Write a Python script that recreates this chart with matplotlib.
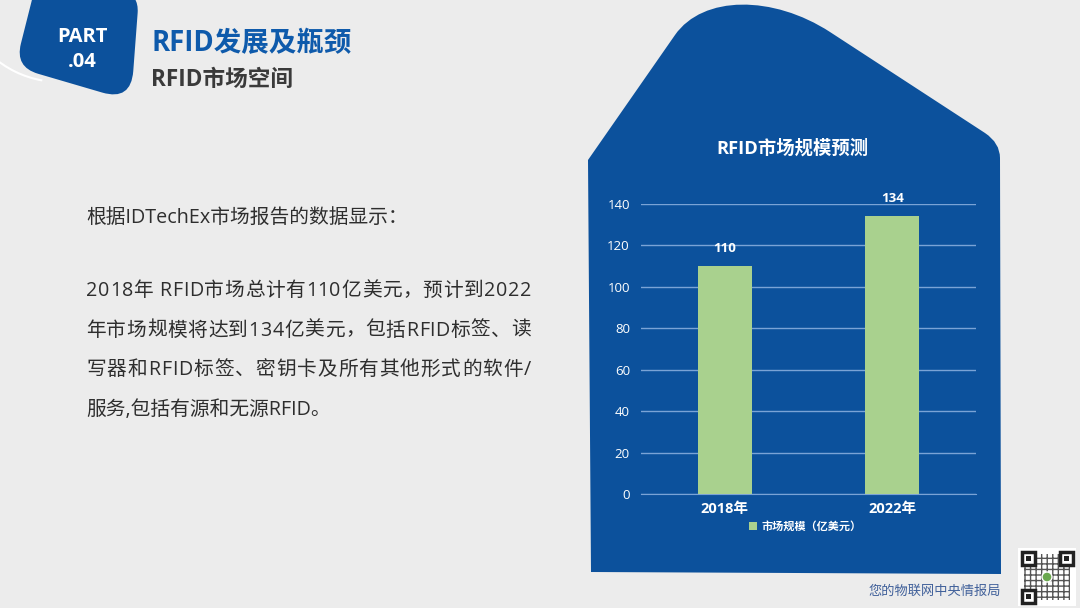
import numpy as np
import matplotlib
matplotlib.use("Agg")
import matplotlib.pyplot as plt
from matplotlib.path import Path
from matplotlib.patches import PathPatch, Rectangle, Arc, Circle
from matplotlib.font_manager import FontProperties

plt.rcParams['font.family'] = ['Open Sans', 'Noto Sans CJK SC', 'DejaVu Sans']

# chart data
years = ['2018年', '2022年']
market = [110, 134]
yticks = [0, 20, 40, 60, 80, 100, 120, 140]
series_name = '市场规模（亿美元）'
chart_title = 'RFID市场规模预测'

intro = '根据IDTechEx市场报告的数据显示：'
body = ['2018年 RFID市场总计有110亿美元，预计到2022',
        '年市场规模将达到134亿美元，包括RFID标签、读',
        '写器和RFID标签、密钥卡及所有其他形式的软件/',
        '服务,包括有源和无源RFID。']

BLUE = '#0c519c'
GREEN = '#a9d18e'
BG = '#ececec'

fig = plt.figure(figsize=(10.8, 6.08), dpi=100, facecolor=BG)

# background layer in pixel coords
bg = fig.add_axes([0, 0, 1, 1])
bg.set_xlim(0, 1080)
bg.set_ylim(608, 0)
bg.axis('off')


def rounded_poly(pts, radii):
    # polygon with quadratic-rounded corners
    n = len(pts)
    pts = [np.array(p, float) for p in pts]
    verts, codes = [], []
    for i in range(n):
        p0, p1, p2 = pts[i - 1], pts[i], pts[(i + 1) % n]
        r = radii[i]
        a = p1 + (p0 - p1) / np.linalg.norm(p0 - p1) * r
        b = p1 + (p2 - p1) / np.linalg.norm(p2 - p1) * r
        verts.append(a)
        codes.append(Path.MOVETO if i == 0 else Path.LINETO)
        verts += [p1, b]
        codes += [Path.CURVE3, Path.CURVE3]
    verts.append(verts[0])
    codes.append(Path.CLOSEPOLY)
    return Path(verts, codes)


# badge
bg.add_patch(Arc((60, -20), 204, 204, theta1=100, theta2=132, color='white', lw=1.5))
badge = rounded_poly([(42, -40), (139, -5), (131, 101), (15, 67)], [5, 18, 30, 24])
bg.add_patch(PathPatch(badge, fc=BLUE, ec='none'))
bg.text(82, 37, 'PART', color='white', fontsize=14.5, fontweight='bold', ha='center', va='center')
bg.text(82, 62, '.04', color='white', fontsize=14.5, fontweight='bold', ha='center', va='center')

bg.text(151, 44, 'RFID发展及瓶颈', color='#0e5aab', fontsize=19.8, fontweight='bold', va='center')
bg.text(151, 80, 'RFID市场空间', color='#3a3a3a', fontsize=16.3, fontweight='bold', va='center')

# left text, justified like the slide's text box
renderer = fig.canvas.get_renderer()
fs = 14.2
fp = FontProperties(family=plt.rcParams['font.family'], size=fs)


def text_w(s):
    if not s:
        return 0.0
    return renderer.get_text_width_height_descent(s, fp, ismath=False)[0]


left, right = 86, 531
bg.text(left, 218, intro, color='#2e2e2e', fontsize=fs, va='center')
for k, line in enumerate(body):
    y = 291 + k * 39.5
    if k == len(body) - 1:
        bg.text(left, y, line, color='#2e2e2e', fontsize=fs, va='center')
        continue
    extra = (right - left - text_w(line)) / (len(line) - 1)
    for i, ch in enumerate(line):
        bg.text(left + text_w(line[:i]) + i * extra, y, ch, color='#2e2e2e',
                fontsize=fs, va='center')

# blue house shape
verts = [(591, 572), (588, 160), (675, 35),
         (703, -5), (773, -5), (830, 32),
         (985, 133),
         (1000, 143), (1000, 158),
         (1001, 574), (591, 572)]
codes = [Path.MOVETO, Path.LINETO, Path.LINETO,
         Path.CURVE4, Path.CURVE4, Path.CURVE4,
         Path.LINETO,
         Path.CURVE3, Path.CURVE3,
         Path.LINETO, Path.CLOSEPOLY]
bg.add_patch(PathPatch(Path(verts, codes), fc=BLUE, ec='none'))

bg.text(792, 148, chart_title, color='white', fontsize=13.2, fontweight='bold', ha='center', va='center')

# watermark + qr placeholder
bg.text(1001, 591, '您的物联网中央情报局', color='#40609a', fontsize=9.5, ha='right', va='center')
bg.add_patch(Rectangle((1018, 548), 58, 58, fc='white', ec='none'))
bg.add_patch(Rectangle((1024, 554), 46, 46, fc='none', ec='#555555', lw=0, hatch='+++'))
for fx, fy in [(1022, 552), (1060, 552), (1022, 590)]:
    bg.add_patch(Rectangle((fx, fy), 13, 13, fc='white', ec='#222222', lw=2.5))
    bg.add_patch(Rectangle((fx + 4, fy + 4), 5, 5, fc='#222222', ec='none'))
bg.add_patch(Circle((1047, 577), 5, fc='#6aa84f', ec='white', lw=1))

# chart
ax = fig.add_axes([641 / 1080, 114 / 608, 335 / 1080, 290 / 608])
ax.set_facecolor('none')
x = np.arange(len(years))
ax.bar(x, market, width=0.32, color=GREEN, label=series_name, zorder=3)
for xi, v in zip(x, market):
    ax.annotate(str(v), (xi, v), xytext=(0, 8), textcoords='offset points',
                ha='center', va='bottom', color='white', fontsize=9.5,
                fontweight='bold', annotation_clip=False)
ax.set_xlim(-0.5, 1.5)
ax.set_ylim(0, 140)
ax.set_yticks(yticks)
ax.set_xticks(x)
ax.set_xticklabels(years, fontweight='bold', fontsize=10.5)
ax.tick_params(axis='y', colors='white', labelsize=9.5, length=0, pad=8)
ax.tick_params(axis='x', colors='white', length=0, pad=6)
ax.grid(axis='y', color='#7aa3d6', lw=1, zorder=0)
for s in ax.spines.values():
    s.set_visible(False)
ax.spines['bottom'].set_visible(True)
ax.spines['bottom'].set_color('#7aa3d6')
leg = ax.legend(loc='center', bbox_to_anchor=(0.49, -0.114), frameon=False,
                fontsize=8, labelcolor='white', handlelength=0.7, handleheight=0.7,
                handletextpad=0.4, borderpad=0)
for t in leg.get_texts():
    t.set_fontweight('bold')

fig.savefig('out.png', dpi=100, facecolor=BG)
